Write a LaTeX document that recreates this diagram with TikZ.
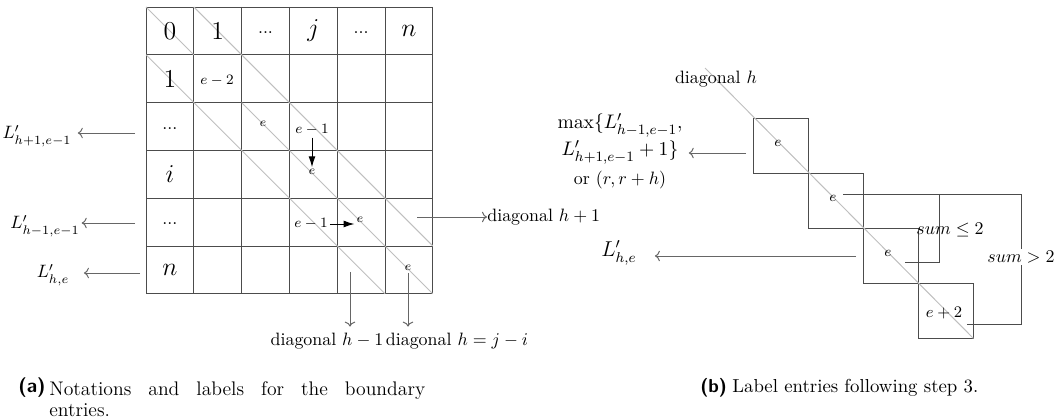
\documentclass[tikz,border=0pt]{standalone}
\usepackage{amsmath}
\usepackage{amssymb}
\usetikzlibrary{arrows.meta,positioning,calc}

\begin{document}
\begin{tikzpicture}[x=0.5587pt, y=-0.5587pt,
        gridline/.style={draw=black!70, line width=0.55pt},
        diagline/.style={draw=black!25, line width=0.55pt},
        pointer/.style={->, draw=black!60, line width=0.55pt},
        move/.style={-{Latex[length=6pt, width=3.8pt]}, black, line width=0.55pt},
        head/.style={font=\Large},
        entry/.style={font=\footnotesize, inner sep=1pt},
        small entry/.style={font=\scriptsize, inner sep=1pt},
        sqbox/.style={rectangle, draw=black!70, line width=0.55pt, minimum size=30.73pt, inner sep=0pt}]

    \useasboundingbox (0,0) rectangle (1054,418);

    % (a) the table
    \begin{scope}[shift={(146,7)}, x=26.71pt, y=-26.71pt]
        \foreach \k in {0,...,6} {
            \draw[gridline] (\k,0) -- (\k,6);
            \draw[gridline] (0,\k) -- (6,\k);
        }
        \draw[diagline] (0,0) -- (1,1);
        \draw[diagline] (2,2) -- (6,6);
        \draw[diagline] (1,0) -- (6,5);
        \draw[diagline] (0,1) -- (5,6);

        \node[head] (top0) at (0.5,0.5) {$0$};
        \node[head] (top1) at (1.5,0.5) {$1$};
        \node (top2) at (2.5,0.54) {$...$};
        \node[head] (top3) at (3.5,0.5) {$j$};
        \node (top4) at (4.5,0.54) {$...$};
        \node[head] (top5) at (5.5,0.5) {$n$};
        \node[head] (row1) at (0.5,1.5) {$1$};
        \node (row2) at (0.5,2.54) {$...$};
        \node[head] (row3) at (0.5,3.5) {$i$};
        \node (row4) at (0.5,4.54) {$...$};
        \node[head] (row5) at (0.5,5.5) {$n$};
    \end{scope}

    \node[entry] (em2) at (217,81) {$e-2$};
    \node[small entry] (e22) at (263,124) {$e$};
    \node[entry] (em1a) at (312,130) {$e-1$};
    \node[small entry] (e33) at (312,172) {$e$};
    \node[entry] (em1b) at (311,224) {$e-1$};
    \node[small entry] (e44) at (360,220) {$e$};
    \node[small entry] (e55) at (408,268) {$e$};
    \draw[move] (em1a) -- (e33);
    \draw[move] (em1b.east) -- (em1b.east -| e44.west);

    % labels round the table
    \node (lA) at (37,136) {$L'_{h+1,e-1}$};
    \node[inner sep=1pt] (lB) at (45,226) {$L'_{h-1,e-1}$};
    \node[inner xsep=8pt] (lC) at (53,275) {$L'_{h,e}$};
    \coordinate (pA) at (135,133);
    \coordinate (pB) at (135,223);
    \coordinate (pC) at (140,273);
    \draw[pointer] (pA) -- (pA -| lA.east);
    \draw[pointer] (pB) -- (pB -| lB.east);
    \draw[pointer] (pC) -- (pC -| lC.east);

    \node[anchor=west, inner sep=0pt] (dD) at (487,217) {diagonal $h+1$};
    \coordinate (pD) at (417,217);
    \draw[pointer] (pD) -- (dD.west);

    \node (dE) at (327,341) {diagonal $h-1$};
    \node (dF) at (457,341) {diagonal $h=j-i$};
    \coordinate (pE) at (350,272);
    \draw[pointer] (pE) -- (pE |- dE.north);
    \draw[pointer] (e55) -- (e55 |- dF.north);

    % (b) the staircase
    \coordinate (dtop) at (705,68);
    \node[sqbox] (s1) at (780.5,145.5) {};
    \node[sqbox] (s2) at (835.5,200.5) {};
    \node[sqbox] (s3) at (890.5,255.5) {};
    \node[sqbox] (s4) at (945.5,310.5) {};
    \draw[diagline] (dtop) -- (s4.south east);
    \node (dH) at (716,79) {diagonal $h$};
    \node[entry] (f1) at (778,143) {$e$};
    \node[entry] (f2) at (833,198) {$e$};
    \node[entry] (f3) at (888,253) {$e$};
    \node[font=\small, inner sep=1pt] (f4) at (944,313) {$e+2$};

    \node[align=center, font=\fontsize{11}{13}\selectfont] (mx) at (620,151) {$\max\{L'_{h-1,e-1},$\\[1pt]$L'_{h+1,e-1}+1\}$\\[3pt]{\normalsize or $(r,r+h)$}};
    \coordinate (pF) at (746,153);
    \draw[pointer] (pF) -- (pF -| mx.east);

    \node[inner xsep=10pt, font=\large] (lD) at (619,253) {$L'_{h,e}$};
    \coordinate (pG) at (856,256);
    \draw[pointer] (pG) -- (pG -| lD.east);

    \coordinate (bTop) at (843,194);
    \coordinate (bIn) at (905,262);
    \coordinate (bOut) at (967,324);
    \draw[gridline] (bTop) -- (1021,194) -- (1021,324) -- (bOut);
    \draw[gridline] (939,194) -- (939,262) -- (bIn);
    \node (sle) at (950,230) {$sum \leq 2$};
    \node[fill=white, inner sep=1pt] (sgt) at (1021,257) {$sum > 2$};

    % captions
    \node[anchor=base west, inner sep=0pt, font=\fontsize{11}{12}\selectfont] (tagA) at (18,393) {\textsf{\textbf{(a)}}};
    \node[anchor=north west, inner sep=0pt, text width=210pt, align=justify, font=\fontsize{11}{12}\selectfont] (capA) at (49,381) {Notations and labels for the boundary\linebreak entries.};
    \node[anchor=base west, inner sep=0pt, font=\fontsize{10.5}{12}\selectfont] (tagB) at (700,393) {\textsf{\textbf{(b)}}};
    \node[anchor=base west, inner sep=0pt, font=\fontsize{10.5}{12}\selectfont] (capB) at (732,393) {Label entries following step 3.};

\end{tikzpicture}
\end{document}
